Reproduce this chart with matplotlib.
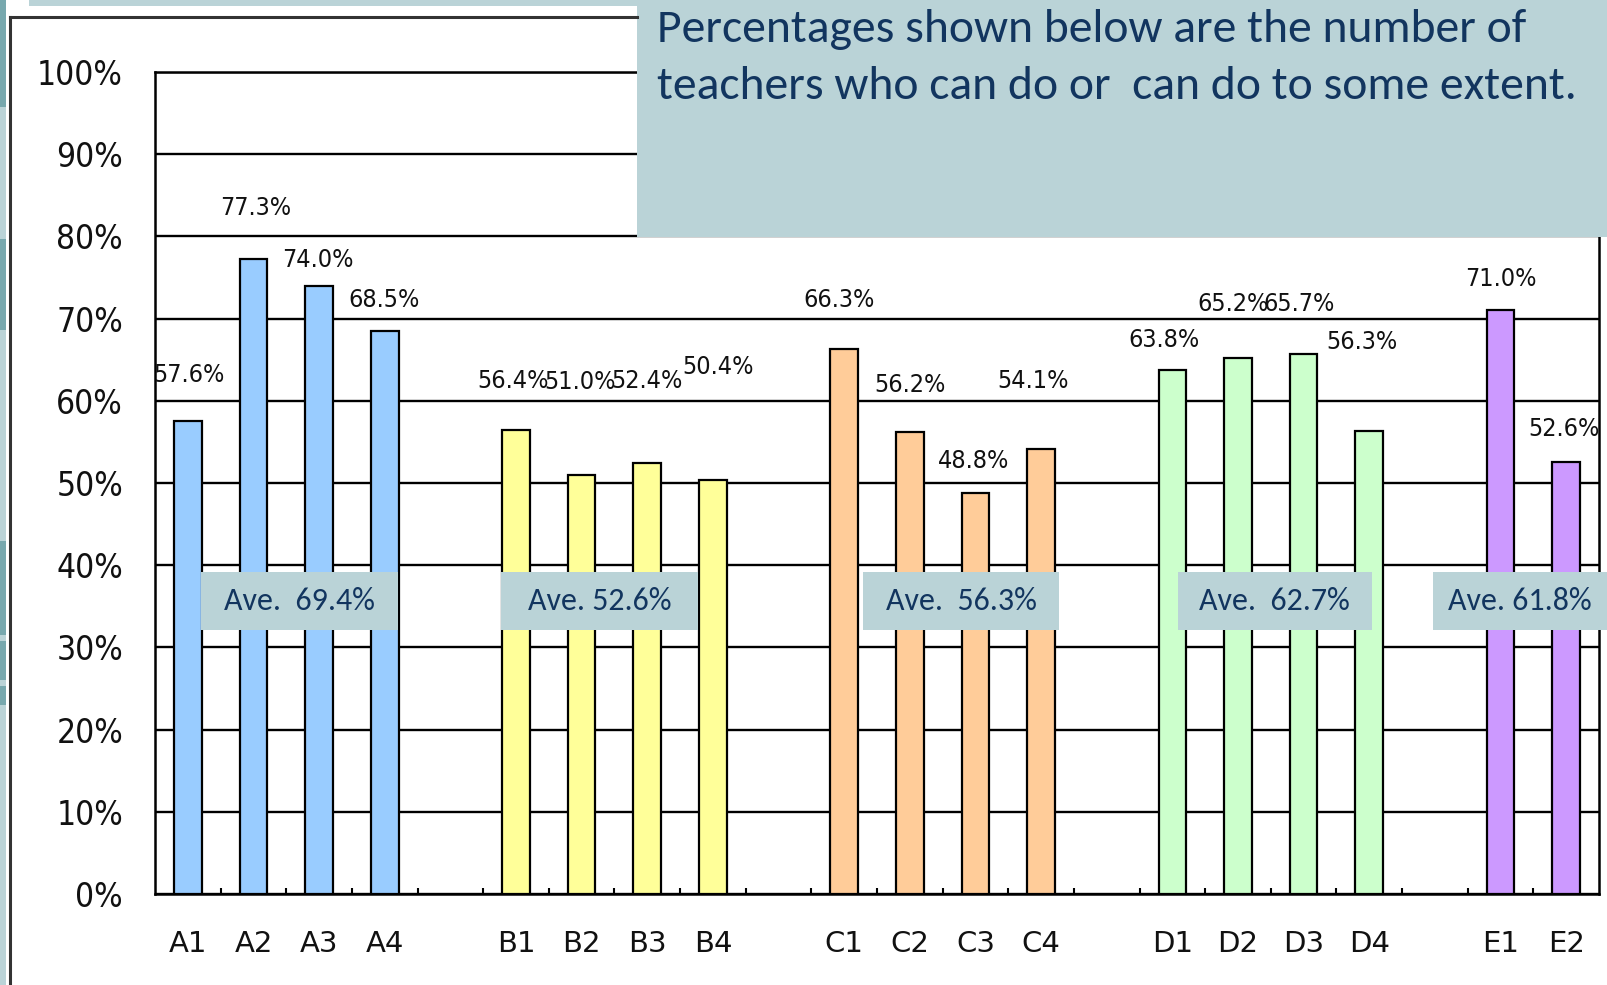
import numpy as np
import matplotlib
matplotlib.use("Agg")
import matplotlib.pyplot as plt
from matplotlib.patches import Rectangle
from matplotlib.lines import Line2D

# ---- data -------------------------------------------------------------
group_names = ["A", "B", "C", "D", "E"]
values_A = [57.6, 77.3, 74.0, 68.5]
values_B = [56.4, 51.0, 52.4, 50.4]
values_C = [66.3, 56.2, 48.8, 54.1]
values_D = [63.8, 65.2, 65.7, 56.3]
values_E = [71.0, 52.6]
averages = [69.4, 52.6, 56.3, 62.7, 61.8]
average_texts = ["Ave.  69.4%", "Ave. 52.6%", "Ave.  56.3%", "Ave.  62.7%", "Ave. 61.8%"]
y_ticks = [0, 10, 20, 30, 40, 50, 60, 70, 80, 90, 100]
header_lines = ["Percentages shown below are the number of",
                "teachers who can do or  can do to some extent."]

# ---- styling ----------------------------------------------------------
group_colors = ["#99CCFF", "#FFFF99", "#FFCC99", "#CCFFCC", "#CC99FF"]
# label offsets (pixels) from the top centre of each bar
label_offsets = [(1, 46), (2, 51), (-1, 26), (-1, 31),
                 (-3, 49), (-2, 93), (0, 82), (5, 113),
                 (-5, 49), (0, 47), (-2, 32), (-8, 68),
                 (-8, 30), (-5, 54), (-5, 50), (-7, 89),
                 (0, 31), (-2, 33)]
# average boxes: (left slot offset relative to group's first slot, width in slots)
avg_box_spans = [(0.20, 3.0), (-0.23, 3.0), (0.28, 3.0), (0.08, 2.96), (-1.03, 2.66)]
avg_box_y = (32.1, 39.2)

TEAL = "#BAD3D7"
NAVY = "#12355F"
CALIBRI_LIKE = ["Carlito", "Lato", "DejaVu Sans"]
LABEL_FONT = dict(family="DejaVu Sans", fontstretch="condensed")

W, H = 1607, 985
fig = plt.figure(figsize=(W / 100, H / 100), dpi=100)
fig.patch.set_facecolor("white")

left, right, top, bottom = 155, 1599, 72, 894
ax = fig.add_axes([left / W, (H - bottom) / H, (right - left) / W, (bottom - top) / H])
ax.set_zorder(1)

groups = [values_A, values_B, values_C, values_D, values_E]
xs, vals, cols, names = [], [], [], []
group_starts = []
slot = 0
for g, (name, gv) in enumerate(zip(group_names, groups)):
    group_starts.append(slot)
    for i, v in enumerate(gv):
        xs.append(slot)
        vals.append(v)
        cols.append(group_colors[g])
        names.append(f"{name}{i + 1}")
        slot += 1
    slot += 1  # empty slot between groups
n_slots = slot - 1

ax.bar(xs, vals, width=0.42, color=cols, edgecolor="black", linewidth=1.6, zorder=3)

ax.set_xlim(-0.5, n_slots - 0.5)
ax.set_ylim(0, 100)
ax.set_yticks(y_ticks)
ax.set_yticklabels([f"{t}%" for t in y_ticks], fontsize=24, color="#111111", **LABEL_FONT)
ax.set_xticks(xs)
ax.set_xticklabels(names, family="DejaVu Sans", fontsize=21, color="#111111")
ax.set_xticks(np.arange(0.5, n_slots - 0.5, 1), minor=True)
ax.tick_params(axis="x", which="major", length=0, pad=26)
ax.tick_params(axis="x", which="minor", direction="in", length=4, width=1.5)
ax.tick_params(axis="y", length=0, pad=23)
ax.yaxis.grid(True, color="black", linewidth=1.7)
ax.set_axisbelow(True)
for s in ax.spines.values():
    s.set_color("black")
    s.set_linewidth(1.8)

for x, v, (dx, dy) in zip(xs, vals, label_offsets):
    ax.annotate(f"{v:.1f}%", xy=(x, v), xytext=(dx, dy), textcoords="offset pixels",
                ha="center", va="center", fontsize=18, color="#111111", zorder=4,
                **LABEL_FONT)

for start, (off, wid), txt in zip(group_starts, avg_box_spans, average_texts):
    x0 = start + off
    ax.add_patch(Rectangle((x0, avg_box_y[0]), wid, avg_box_y[1] - avg_box_y[0],
                           facecolor=TEAL, edgecolor="none", zorder=5, clip_on=False))
    ax.text(x0 + wid / 2, sum(avg_box_y) / 2, txt, ha="center", va="center",
            color=NAVY, fontsize=23, family=CALIBRI_LIKE, zorder=6, clip_on=False)

# ---- slide decoration, frame and header panel -------------------------
ov = fig.add_axes([0, 0, 1, 1])
ov.set_zorder(5)
ov.set_xlim(0, W)
ov.set_ylim(H, 0)
ov.axis("off")
ov.patch.set_visible(False)

ov.add_patch(Rectangle((0, 0), 6, H, facecolor=TEAL, edgecolor="none"))
for y0, y1 in [(0, 107), (239, 330), (541, 635), (641, 680), (686, 705)]:
    ov.add_patch(Rectangle((0, y0), 6, y1 - y0, facecolor="#77A8AE", edgecolor="none"))
ov.add_patch(Rectangle((29, 0), 637 - 29, 6, facecolor=TEAL, edgecolor="none"))

ov.add_line(Line2D([10, 10], [17, H], color="#333333", linewidth=2.2))
ov.add_line(Line2D([10, 637], [17, 17], color="#333333", linewidth=2.2))

ov.add_patch(Rectangle((637, 0), W - 637, 237, facecolor=TEAL, edgecolor="none"))
for i, line in enumerate(header_lines):
    ov.text(657, 42 + 57 * i, line, ha="left", va="baseline", color=NAVY,
            fontsize=34.3, family=CALIBRI_LIKE)

fig.savefig("out.png", dpi=100)
